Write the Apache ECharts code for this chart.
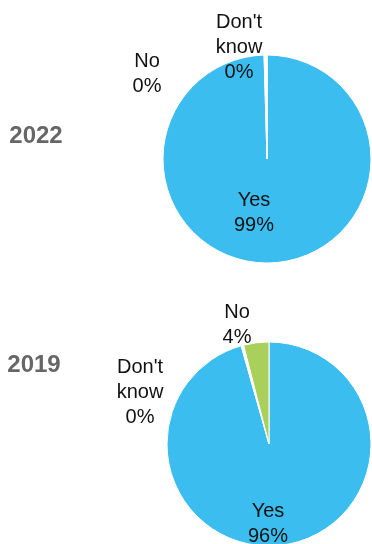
<!DOCTYPE html>
<html>
<head>
<meta charset="utf-8">
<script src="https://cdn.jsdelivr.net/npm/echarts@6/dist/echarts.min.js"></script>
<style>
  html, body { margin: 0; padding: 0; background: #fff; }
  #main { width: 372px; height: 544px; }
</style>
</head>
<body>
<div id="main"></div>
<script>
// answer categories, clockwise from 12 o'clock
var categories = ['Yes', "Don't know", 'No'];
var values2022 = [99.4, 0.45, 0];
var values2019 = [95.6, 0.4, 4.0];
var years = ['2022', '2019'];

var colors = ['#3cbdf0', '#ffffff', '#a8d05a'];

// where each label block sits (center of text block)
var labelPos = [
  [[254, 213], [239, 47], [147, 74]],
  [[268, 524], [140, 392], [237, 325]]
];

function buildData (values) {
  return categories.map(function (name, i) {
    return { name: name, value: values[i], itemStyle: { color: colors[i] } };
  });
}

function pieSeries (values, idx, center, radius) {
  return {
    type: 'pie',
    center: center,
    radius: radius,
    startAngle: 90,
    clockwise: true,
    animation: false,
    silent: true,
    itemStyle: { borderColor: '#fff', borderWidth: 1 },
    label: {
      show: true,
      position: 'outside',
      fontFamily: 'Liberation Sans, Arial, sans-serif',
      fontSize: 20,
      lineHeight: 25,
      color: '#111',
      align: 'center',
      formatter: function (p) {
        return p.name.replace(' ', '\n') + '\n' + Math.round(p.value) + '%';
      }
    },
    labelLine: { show: false },
    labelLayout: function (p) {
      var pos = labelPos[idx][p.dataIndex];
      return { x: pos[0], y: pos[1], align: 'center', verticalAlign: 'middle' };
    },
    data: buildData(values)
  };
}

var chartDom = document.getElementById('main');
var myChart = echarts.init(chartDom);
var option;

option = {
  backgroundColor: '#fff',
  graphic: [
    {
      type: 'text', x: 36, y: 136,
      style: {
        text: years[0], fill: '#666', fontSize: 24, fontWeight: 'bold',
        fontFamily: 'Liberation Sans, Arial, sans-serif',
        textAlign: 'center', textVerticalAlign: 'middle'
      }
    },
    {
      type: 'text', x: 34, y: 365,
      style: {
        text: years[1], fill: '#666', fontSize: 24, fontWeight: 'bold',
        fontFamily: 'Liberation Sans, Arial, sans-serif',
        textAlign: 'center', textVerticalAlign: 'middle'
      }
    }
  ],
  series: [
    pieSeries(values2022, 0, [267, 159], 104),
    pieSeries(values2019, 1, [269, 444], 102)
  ]
};

option && myChart.setOption(option);
</script>
</body>
</html>
